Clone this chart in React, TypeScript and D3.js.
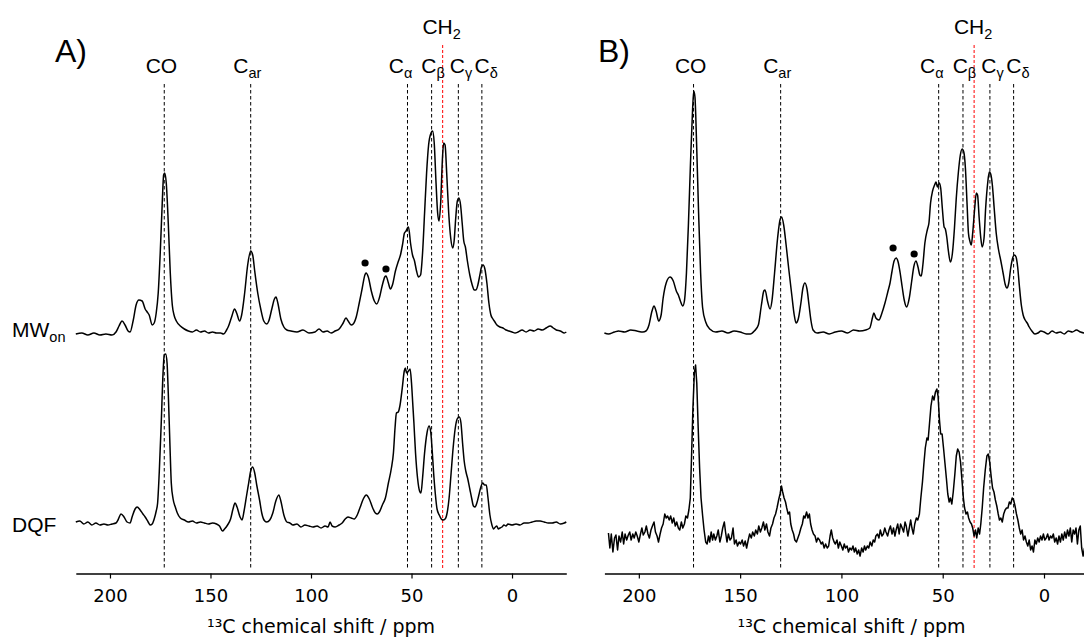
import { useEffect, useRef } from 'react';
import * as d3 from 'd3';

const WIDTH = 1084;
const HEIGHT = 638;

// x axis in ppm (reversed, as usual for NMR)
const ppmDomain: [number, number] = [217, -27];
const ppmTicks = [200, 150, 100, 50, 0];

// assignment guide lines and labels (line position, label centre)
const assignments = [
  { main: 'CO', sub: '', ppm: 173, labelPpm: 174.4 },
  { main: 'C', sub: 'ar', ppm: 130, labelPpm: 131.7 },
  { main: 'C', sub: 'α', ppm: 52, labelPpm: 55.4 },
  { main: 'C', sub: 'β', ppm: 40, labelPpm: 39.3 },
  { main: 'C', sub: 'γ', ppm: 26.7, labelPpm: 25.4 },
  { main: 'C', sub: 'δ', ppm: 15, labelPpm: 12.9 },
];
const ch2Line = { main: 'CH', sub: '2', ppm: 34.5, labelPpm: 35 };

// trace offsets (same units as intensities)
const mwOffset = 190;
const dqfOffsetA = 0;
const dqfOffsetB = -15;

// A) MW_on spectrum [ppm, intensity]
const mwOnA: [number, number][] = [
  [217, -1], [214, 0], [211, -2], [208, 0], [205, -2], [202, -1], [199, -2], [197, 1], [195.5, 7],
  [194, 12], [192.5, 8], [191, 2], [190, 1], [188.5, 12], [187, 28], [185.6, 33], [184, 32],
  [182.5, 24], [181.5, 21], [180.5, 18], [179, 8], [178, 10], [177, 20], [176, 40], [175, 80],
  [174, 130], [173.3, 158], [172.8, 160], [172, 150], [171, 110], [170, 60], [169, 28], [168, 17],
  [167, 12], [165, 7], [163, 4], [161, 2], [159, 1], [157, 3], [155, 1], [153, 2], [151, 0],
  [149, 1], [147, 0], [145, 0], [143.5, -1], [142, 3], [141, 7], [139.5, 16], [138, 24], [137, 20],
  [135.5, 12], [134.5, 18], [133, 40], [131.5, 68], [130, 82], [129, 78], [128, 62], [126.5, 40],
  [125, 24], [123.5, 12], [122, 9], [121, 12], [119.5, 24], [118.2, 34], [117.4, 36], [116.5, 30],
  [115, 14], [113.5, 6], [112, 3], [110, 2], [107, 1], [104, 3], [101, 0], [98, 1], [96, 4],
  [94, 1], [92, 2], [90, 0], [88, 2], [86, 4], [84, 10], [82.6, 15], [81.5, 12], [80, 8], [79, 9],
  [77.5, 16], [76, 30], [74.5, 45], [73.2, 58], [72.6, 60], [71.5, 56], [70, 42], [68.5, 32],
  [67.3, 29], [66, 35], [64.5, 48], [63.3, 56], [62.7, 57], [61.5, 50], [60.5, 44], [59.5, 48],
  [58, 62], [56.5, 72], [55.5, 78], [54.5, 88], [53.5, 100], [52.7, 102], [52, 105], [51.5, 106],
  [50.5, 90], [49.5, 78], [48.5, 72], [47.5, 62], [46.5, 56], [45.5, 58], [44.5, 80], [43.5, 120],
  [42.5, 160], [41.5, 188], [40.3, 200], [39.5, 202], [38.7, 190], [37.8, 150], [37, 120],
  [36.3, 112], [35.5, 130], [34.6, 175], [34, 190], [33.3, 188], [32.5, 160], [31.5, 120],
  [30.5, 95], [29.5, 85], [28.8, 92], [28, 115], [27.2, 132], [26.4, 135], [25.6, 128], [24.8, 110],
  [24, 92], [23.2, 86], [22.2, 72], [21, 58], [19.8, 48], [18.8, 43], [17.9, 43], [17, 48],
  [16, 58], [15.2, 66], [14.4, 68], [13.5, 64], [12.5, 50], [11.5, 30], [10.5, 18], [9.5, 14],
  [8.5, 11], [7.5, 8], [6, 6], [4.5, 5], [3, 3], [1.5, 2], [0, 1], [-1.5, 0], [-3, 1], [-5, 3],
  [-7, 1], [-9, 3], [-11, 2], [-13, 4], [-15, 3], [-17, 5], [-19, 7], [-20.5, 5], [-22, 3],
  [-24, 2], [-26, 0], [-27, 1],
];

// A) DQF spectrum
const dqfA: [number, number][] = [
  [217, 1], [215, 2], [213, -1], [211, 1], [209, -2], [207, 0], [205, -2], [203, -1], [201, -2],
  [199, -1], [197, 0], [196, 3], [194.5, 9], [193, 6], [191.5, 1], [190, 0], [189, 6], [187.5, 14],
  [186.5, 16], [185, 13], [183.6, 9], [182.5, 6], [181, 1], [180, -2], [179, -1], [178, 4],
  [177, 12], [176.3, 20], [175.5, 50], [174.5, 100], [173.6, 150], [173, 168], [172.3, 169],
  [171.6, 160], [171, 130], [170.2, 80], [169.5, 40], [168.6, 24], [167.5, 16], [166.5, 10],
  [165, 5], [163, 3], [161, 1], [159, 2], [157, 0], [155, 1], [153, 0], [151, -1], [149, 0],
  [147, -1], [145.5, -3], [144, -8], [143, -6], [141.5, -2], [140, 4], [138.8, 14], [137.8, 20],
  [136.8, 16], [135.3, 6], [134.3, 3], [133.3, 12], [132, 28], [131, 40], [130, 52], [129, 56],
  [128, 50], [127, 38], [125.5, 22], [124.5, 10], [123, 2], [122, 1], [120.5, 3], [119, 10],
  [117.5, 22], [116, 28], [115, 22], [113.5, 8], [112, 1], [110.5, 0], [109, -2], [107, -1],
  [105, -4], [103, -2], [101, -3], [99, -4], [97, -3], [95, -5], [93, -3], [91.5, -4], [90.5, 1],
  [89.5, -3], [88, -4], [86, -2], [84.5, 0], [83, 4], [81.6, 6], [80, 5], [78.5, 4], [77, 8],
  [75.5, 16], [74, 24], [72.5, 28], [71, 24], [69.5, 16], [68, 10], [67, 9], [66, 11], [64.5, 18],
  [63, 25], [61.5, 40], [60, 55], [59, 70], [58.2, 95], [57.5, 110], [56.6, 111], [55.7, 118],
  [54.6, 135], [53.6, 152], [53.1, 155], [52.4, 150], [51.5, 152], [50.7, 154], [50, 140],
  [49.4, 120], [48.8, 100], [48, 70], [47, 45], [46, 32], [45.3, 30], [44.5, 45], [43.5, 70],
  [42.3, 90], [41.3, 97], [40.5, 92], [39.7, 72], [39, 50], [38.2, 30], [37.3, 14], [36.2, 8],
  [35.2, 4], [34.3, 3], [33.3, 4], [32.3, 10], [31.3, 25], [30.3, 50], [29.3, 75], [28.3, 94],
  [27.3, 104], [26.2, 106], [25.4, 100], [24.6, 80], [23.8, 62], [23, 52], [22, 44], [21, 34],
  [20, 24], [19.2, 17], [18.4, 16], [17.5, 20], [16.5, 28], [15.5, 36], [14.6, 40], [13.6, 38],
  [12.8, 38], [12, 26], [11, 8], [10, -2], [9.2, -6], [8.3, -4], [7.6, -3], [6.8, -6], [6, -5],
  [5, -4], [4, -2], [3, -3], [2, -1], [0, -2], [-2, -1], [-4, -2], [-6, 0], [-8, 0], [-10, 1],
  [-12, 2], [-14, 2], [-16, 1], [-18, 0], [-20, 0], [-22, 1], [-24, -1], [-26, 0], [-27, 1],
];

// B) MW_on spectrum
const mwOnB: [number, number][] = [
  [217, 0], [215, -1], [212, 1], [210, 2], [207, 1], [204, 3], [201, 2], [198, 1], [196.5, 2],
  [195, 8], [193.5, 22], [192.5, 27], [191.5, 22], [190.2, 12], [189, 18], [188, 35], [186.5, 50],
  [184.6, 56], [183, 52], [181.5, 42], [180.5, 38], [179.5, 32], [178.3, 27], [177.5, 32],
  [176.5, 60], [175.5, 110], [174.5, 170], [173.5, 222], [172.9, 242], [172.3, 236], [171.5, 190],
  [170.5, 120], [169.5, 60], [168.5, 25], [167, 11], [165, 4], [162, 1], [159, 2], [156, 0],
  [153, 2], [150, 1], [147, -1], [145, -1], [143, 2], [141, 8], [139.5, 28], [138.3, 42],
  [137.7, 43], [136.5, 32], [135.2, 24], [134.3, 32], [133, 60], [131.5, 95], [130.2, 114],
  [129.5, 116], [128.5, 108], [127.3, 88], [126, 64], [124.5, 38], [123.3, 18], [122.4, 10],
  [121.3, 14], [120, 30], [119, 45], [118, 50], [117, 44], [116, 28], [115, 12], [114, 3],
  [112, 0], [109, 1], [106, -1], [103, 1], [100, 2], [97, 0], [94, 3], [91, 2], [88, 3], [86, 5],
  [84.6, 16], [84, 20], [83, 15], [81.5, 13], [80, 20], [78.5, 30], [77, 42], [76, 50], [75, 62],
  [74, 72], [73, 75], [72, 71], [71, 60], [70, 46], [69, 33], [67.8, 26], [66.5, 35], [65.3, 52],
  [64.3, 66], [63.2, 72], [62.2, 66], [61.3, 58], [60.6, 57], [59.8, 68], [58.8, 90], [57.5, 104],
  [56.8, 110], [56, 130], [55, 142], [54, 148], [53.3, 151], [52.6, 146], [51.7, 150], [51, 145],
  [50.2, 125], [49.3, 106], [48.7, 104], [48, 96], [47.2, 82], [46.2, 71], [45.2, 80], [44.2, 105],
  [43.3, 135], [42.3, 160], [41.3, 178], [40.4, 184], [39.6, 181], [38.8, 165], [38, 130],
  [37.3, 100], [36.6, 92], [35.9, 88], [35.2, 100], [34.2, 125], [33.4, 140], [32.8, 138],
  [32, 115], [31.2, 95], [30.5, 86], [29.6, 95], [28.8, 125], [27.8, 150], [27, 161], [26.3, 159],
  [25.5, 148], [24.6, 125], [23.6, 100], [22.5, 84], [21.3, 72], [20.2, 60], [19.2, 49],
  [18.3, 45], [17.4, 50], [16.5, 64], [15.6, 74], [14.6, 78], [13.8, 76], [13, 66], [12.2, 48],
  [11.2, 28], [10.3, 18], [9.3, 13], [8.3, 10], [7.3, 6], [6, 2], [4.5, -1], [3, 0], [1.5, 2],
  [0, 1], [-2, -1], [-4, 2], [-6, 0], [-8, 1], [-10, -1], [-12, 2], [-14, 1], [-16, 3], [-18, 1],
  [-20, 0], [-22, 1], [-24, 0], [-27, 1],
];

// B) DQF spectrum (noisy)
const dqfB: [number, number][] = [
  [215, 5], [214.3, -10], [213.6, 4], [212.8, -14], [212, 0], [211.3, 3], [210.5, -12], [209.8, 2],
  [209, -4], [208.2, 6], [207.5, -6], [206.8, 4], [206, -2], [205.2, 3], [204.5, 6], [203.8, -2],
  [203, 4], [202.3, 0], [201.5, 6], [200.8, 2], [200, -4], [199.2, 4], [198.5, 10], [197.8, 3],
  [197, 6], [196.3, 12], [195.5, 4], [194.8, 0], [194, 8], [193.3, 12], [192.5, 16], [191.8, 6],
  [191, 2], [190.3, -4], [189.5, 4], [188.8, 10], [188, 14], [187.2, 24], [186.5, 20], [185.8, 22],
  [185, 18], [184.3, 22], [183.5, 15], [182.8, 20], [182, 12], [181.3, 16], [180.5, 10],
  [179.8, 8], [179, 16], [178.3, 10], [177.5, 14], [176.8, 22], [176, 20], [175.3, 28], [174.6, 40],
  [174, 80], [173.3, 130], [172.6, 165], [172, 173], [171.4, 155], [170.7, 110], [170, 70],
  [169.3, 40], [168.5, 22], [167.8, 8], [167, -4], [166.3, -6], [165.6, 2], [165, -4], [164.3, 6],
  [163.6, -2], [163, 4], [162.2, -2], [161.5, 2], [160.8, 8], [160, -4], [159.3, 2], [158.6, 10],
  [157.8, 16], [157.2, 6], [156.5, -4], [155.8, 4], [155, -2], [154.3, 0], [153.5, 10], [152.8, -6],
  [152, -2], [151.3, -8], [150.5, -4], [149.8, -6], [149, -2], [148.3, -8], [147.5, -3],
  [146.8, -10], [146, -2], [145.3, 4], [144.5, 0], [143.8, 6], [143, 2], [142.3, 8], [141.5, 4],
  [140.8, 12], [140, 6], [139.3, 10], [138.5, 16], [137.8, 8], [137, 14], [136.3, 6], [135.5, 2],
  [134.8, 10], [134, 14], [133.3, 20], [132.5, 24], [131.8, 30], [131, 38], [130.3, 44],
  [129.6, 52], [129, 46], [128.3, 40], [127.6, 36], [127, 30], [126.3, 24], [125.6, 26], [125, 14],
  [124.3, 8], [123.6, 4], [123, -2], [122.2, -4], [121.5, 0], [120.8, 4], [120, 10], [119.3, 14],
  [118.6, 22], [118, 20], [117.2, 26], [116.5, 20], [115.8, 24], [115.2, 14], [114.5, 8],
  [113.8, 4], [113, 2], [112.3, -4], [111.6, 0], [110.8, -2], [110, -6], [109.3, -4], [108.5, -10],
  [107.8, -6], [107, -10], [106.3, -8], [105.6, 2], [105, 8], [104.3, 0], [103.6, -4], [103, -6],
  [102.2, -2], [101.5, -10], [100.8, -4], [100, -8], [99.3, -12], [98.6, -6], [98, -10],
  [97.2, -8], [96.5, -14], [95.8, -10], [95, -12], [94.3, -8], [93.6, -14], [93, -10], [92.2, -16],
  [91.5, -12], [90.8, -18], [90, -10], [89.3, -14], [88.6, -8], [88, -12], [87.2, -8], [86.5, -10],
  [85.8, -4], [85, -8], [84.3, -2], [83.6, -4], [83, 2], [82.2, 4], [81.5, 0], [80.8, 8], [80, 2],
  [79.3, 4], [78.6, 10], [78, 6], [77.2, 2], [76.5, 8], [75.8, 12], [75, 4], [74.3, 10], [73.6, 2],
  [73, 8], [72.2, 14], [71.5, 4], [70.8, 14], [70, 10], [69.3, 6], [68.6, 16], [68, 12], [67.2, 2],
  [66.5, 10], [65.8, 18], [65.2, 10], [64.5, 4], [63.8, 14], [63, 20], [62.3, 18], [61.5, 24],
  [60.8, 40], [60, 56], [59.3, 74], [58.6, 90], [57.8, 100], [57.2, 98], [56.5, 115], [55.8, 132],
  [55, 142], [54.3, 138], [53.6, 146], [52.9, 149], [52.3, 142], [51.6, 118], [51, 104],
  [50.3, 104], [49.6, 90], [48.9, 75], [48.2, 60], [47.5, 44], [46.8, 36], [46.2, 40], [45.5, 34],
  [44.8, 46], [44, 64], [43.3, 82], [42.6, 89], [41.9, 86], [41.2, 76], [40.5, 58], [39.8, 40],
  [39.2, 30], [38.5, 24], [37.8, 26], [37.2, 20], [36.5, 16], [35.8, 14], [35.2, 10], [34.5, 2],
  [33.8, 8], [33.2, 0], [32.5, 10], [31.8, 4], [31.2, 14], [30.5, 30], [29.8, 50], [29, 68],
  [28.2, 82], [27.5, 84], [26.8, 76], [26.1, 62], [25.4, 50], [24.7, 46], [24, 38], [23.3, 32],
  [22.6, 24], [22, 18], [21.3, 20], [20.6, 16], [19.9, 24], [19.2, 28], [18.5, 30], [17.8, 30],
  [17.1, 36], [16.4, 34], [15.7, 40], [15, 38], [14.3, 32], [13.6, 24], [12.9, 18], [12.2, 10],
  [11.5, 4], [10.8, 8], [10.1, -2], [9.4, 2], [8.7, -4], [8, -8], [7.3, -2], [6.6, -12], [5.9, -8],
  [5.2, -14], [4.5, -2], [3.8, -6], [3.1, 0], [2.4, -4], [1.7, 2], [1, -2], [0.3, 4], [-0.4, -2],
  [-1.1, 0], [-1.8, 4], [-2.5, -2], [-3.2, 2], [-3.9, 0], [-4.6, 4], [-5.3, -4], [-6, 0],
  [-6.7, -6], [-7.4, 2], [-8.1, -4], [-8.8, 4], [-9.5, -2], [-10.2, 6], [-10.9, 0], [-11.6, 8],
  [-12.3, 2], [-13, 10], [-13.7, -4], [-14.4, 8], [-15.1, 4], [-15.8, 10], [-16.5, -6], [-17.2, 8],
  [-17.9, 12], [-18.6, -10], [-19.3, -18], [-20, -10],
];

// filled circles above the side peaks [ppm, intensity above MW_on baseline]
const dotsA: [number, number][] = [[73.1, 70], [62.7, 64]];
const dotsB: [number, number][] = [[74.5, 85], [64.1, 79]];

const panels = [
  {
    letter: 'A)', letterX: 55, range: [75.8, 566.3],
    spectra: [
      { data: mwOnA, offset: mwOffset, smooth: true },
      { data: dqfA, offset: dqfOffsetA, smooth: true },
    ],
    dots: dotsA,
  },
  {
    letter: 'B)', letterX: 598, range: [604.4, 1098.7],
    spectra: [
      { data: mwOnB, offset: mwOffset, smooth: true },
      { data: dqfB, offset: dqfOffsetB, smooth: false },
    ],
    dots: dotsB,
  },
];

const labelFont = '"Liberation Sans", Arial, sans-serif';
const axisFont = '"DejaVu Sans", sans-serif';

const App = () => {
  const svgRef = useRef<SVGSVGElement | null>(null);

  useEffect(() => {
    if (!svgRef.current) return;
    const svg = d3.select(svgRef.current);
    svg.selectAll('*').remove();

    const axisY = 573.5;
    const y = d3.scaleLinear().domain([-50.5, 523]).range([axisY, 0]);

    panels.forEach(p => {
      const x = d3.scaleLinear().domain(ppmDomain).range(p.range as [number, number]);
      const g = svg.append('g');

      // dashed assignment lines
      g.selectAll('line.guide')
        .data(assignments)
        .join('line')
        .attr('class', 'guide')
        .attr('x1', d => x(d.ppm))
        .attr('x2', d => x(d.ppm))
        .attr('y1', 84)
        .attr('y2', 569)
        .attr('stroke', '#000')
        .attr('stroke-width', 1)
        .attr('stroke-dasharray', '3.5,2.5');

      g.append('line')
        .attr('x1', x(ch2Line.ppm))
        .attr('x2', x(ch2Line.ppm))
        .attr('y1', 45)
        .attr('y2', 569)
        .attr('stroke', '#ff0000')
        .attr('stroke-width', 1)
        .attr('stroke-dasharray', '3,2');

      // labels with subscripts
      const labels = g.selectAll('text.lab')
        .data([...assignments.map(a => ({ ...a, baseline: 73 })), { ...ch2Line, baseline: 34 }])
        .join('text')
        .attr('class', 'lab')
        .attr('x', d => x(d.labelPpm))
        .attr('y', d => d.baseline)
        .attr('text-anchor', 'middle')
        .attr('font-family', labelFont)
        .attr('font-size', 21)
        .attr('fill', '#000');
      labels.append('tspan').text(d => d.main);
      labels.filter(d => d.sub !== '')
        .append('tspan')
        .attr('dy', 4.5)
        .attr('font-size', 14.5)
        .text(d => d.sub);

      // spectra
      p.spectra.forEach(s => {
        const line = d3.line<[number, number]>()
          .x(d => x(d[0]))
          .y(d => y(d[1] + s.offset))
          .curve(s.smooth ? d3.curveMonotoneX : d3.curveLinear);
        g.append('path')
          .attr('d', line(s.data))
          .attr('fill', 'none')
          .attr('stroke', '#000')
          .attr('stroke-width', 1.5)
          .attr('stroke-linejoin', 'round');
      });

      g.selectAll('circle.dot')
        .data(p.dots)
        .join('circle')
        .attr('class', 'dot')
        .attr('cx', d => x(d[0]))
        .attr('cy', d => y(d[1] + mwOffset))
        .attr('r', 3.6)
        .attr('fill', '#000');

      // x axis
      const axis = d3.axisBottom(x)
        .tickValues(ppmTicks)
        .tickSize(5)
        .tickSizeOuter(0)
        .tickPadding(11)
        .tickFormat(d3.format('d'));
      const ag = g.append('g')
        .attr('transform', `translate(0,${axisY})`)
        .call(axis)
        .attr('font-family', axisFont)
        .attr('font-size', 18);
      ag.select('.domain').attr('stroke', '#000').attr('stroke-width', 1.5);
      ag.selectAll('.tick line').attr('stroke', '#000').attr('stroke-width', 1.2);
      ag.selectAll('.tick text').attr('fill', '#000');

      const [r0, r1] = p.range;
      g.append('text')
        .attr('x', (r0 + r1) / 2)
        .attr('y', 633)
        .attr('text-anchor', 'middle')
        .attr('font-family', axisFont)
        .attr('font-size', 19)
        .attr('fill', '#000')
        .text('¹³C chemical shift / ppm');

      g.append('text')
        .attr('x', p.letterX)
        .attr('y', 62)
        .attr('font-family', labelFont)
        .attr('font-size', 32)
        .attr('fill', '#000')
        .text(p.letter);
    });

    // trace names on the left
    const mw = svg.append('text')
      .attr('x', 12)
      .attr('y', 337)
      .attr('font-family', labelFont)
      .attr('font-size', 21)
      .attr('fill', '#000');
    mw.append('tspan').text('MW');
    mw.append('tspan').attr('dy', 4.5).attr('font-size', 14.5).text('on');

    svg.append('text')
      .attr('x', 12)
      .attr('y', 532)
      .attr('font-family', labelFont)
      .attr('font-size', 21)
      .attr('fill', '#000')
      .text('DQF');
  }, []);

  return (
    <div style={{ position: 'absolute', left: 0, top: 0, width: WIDTH, height: HEIGHT, background: '#fff' }}>
      <svg ref={svgRef} width={WIDTH} height={HEIGHT} style={{ display: 'block' }} />
    </div>
  );
};

export default App;
